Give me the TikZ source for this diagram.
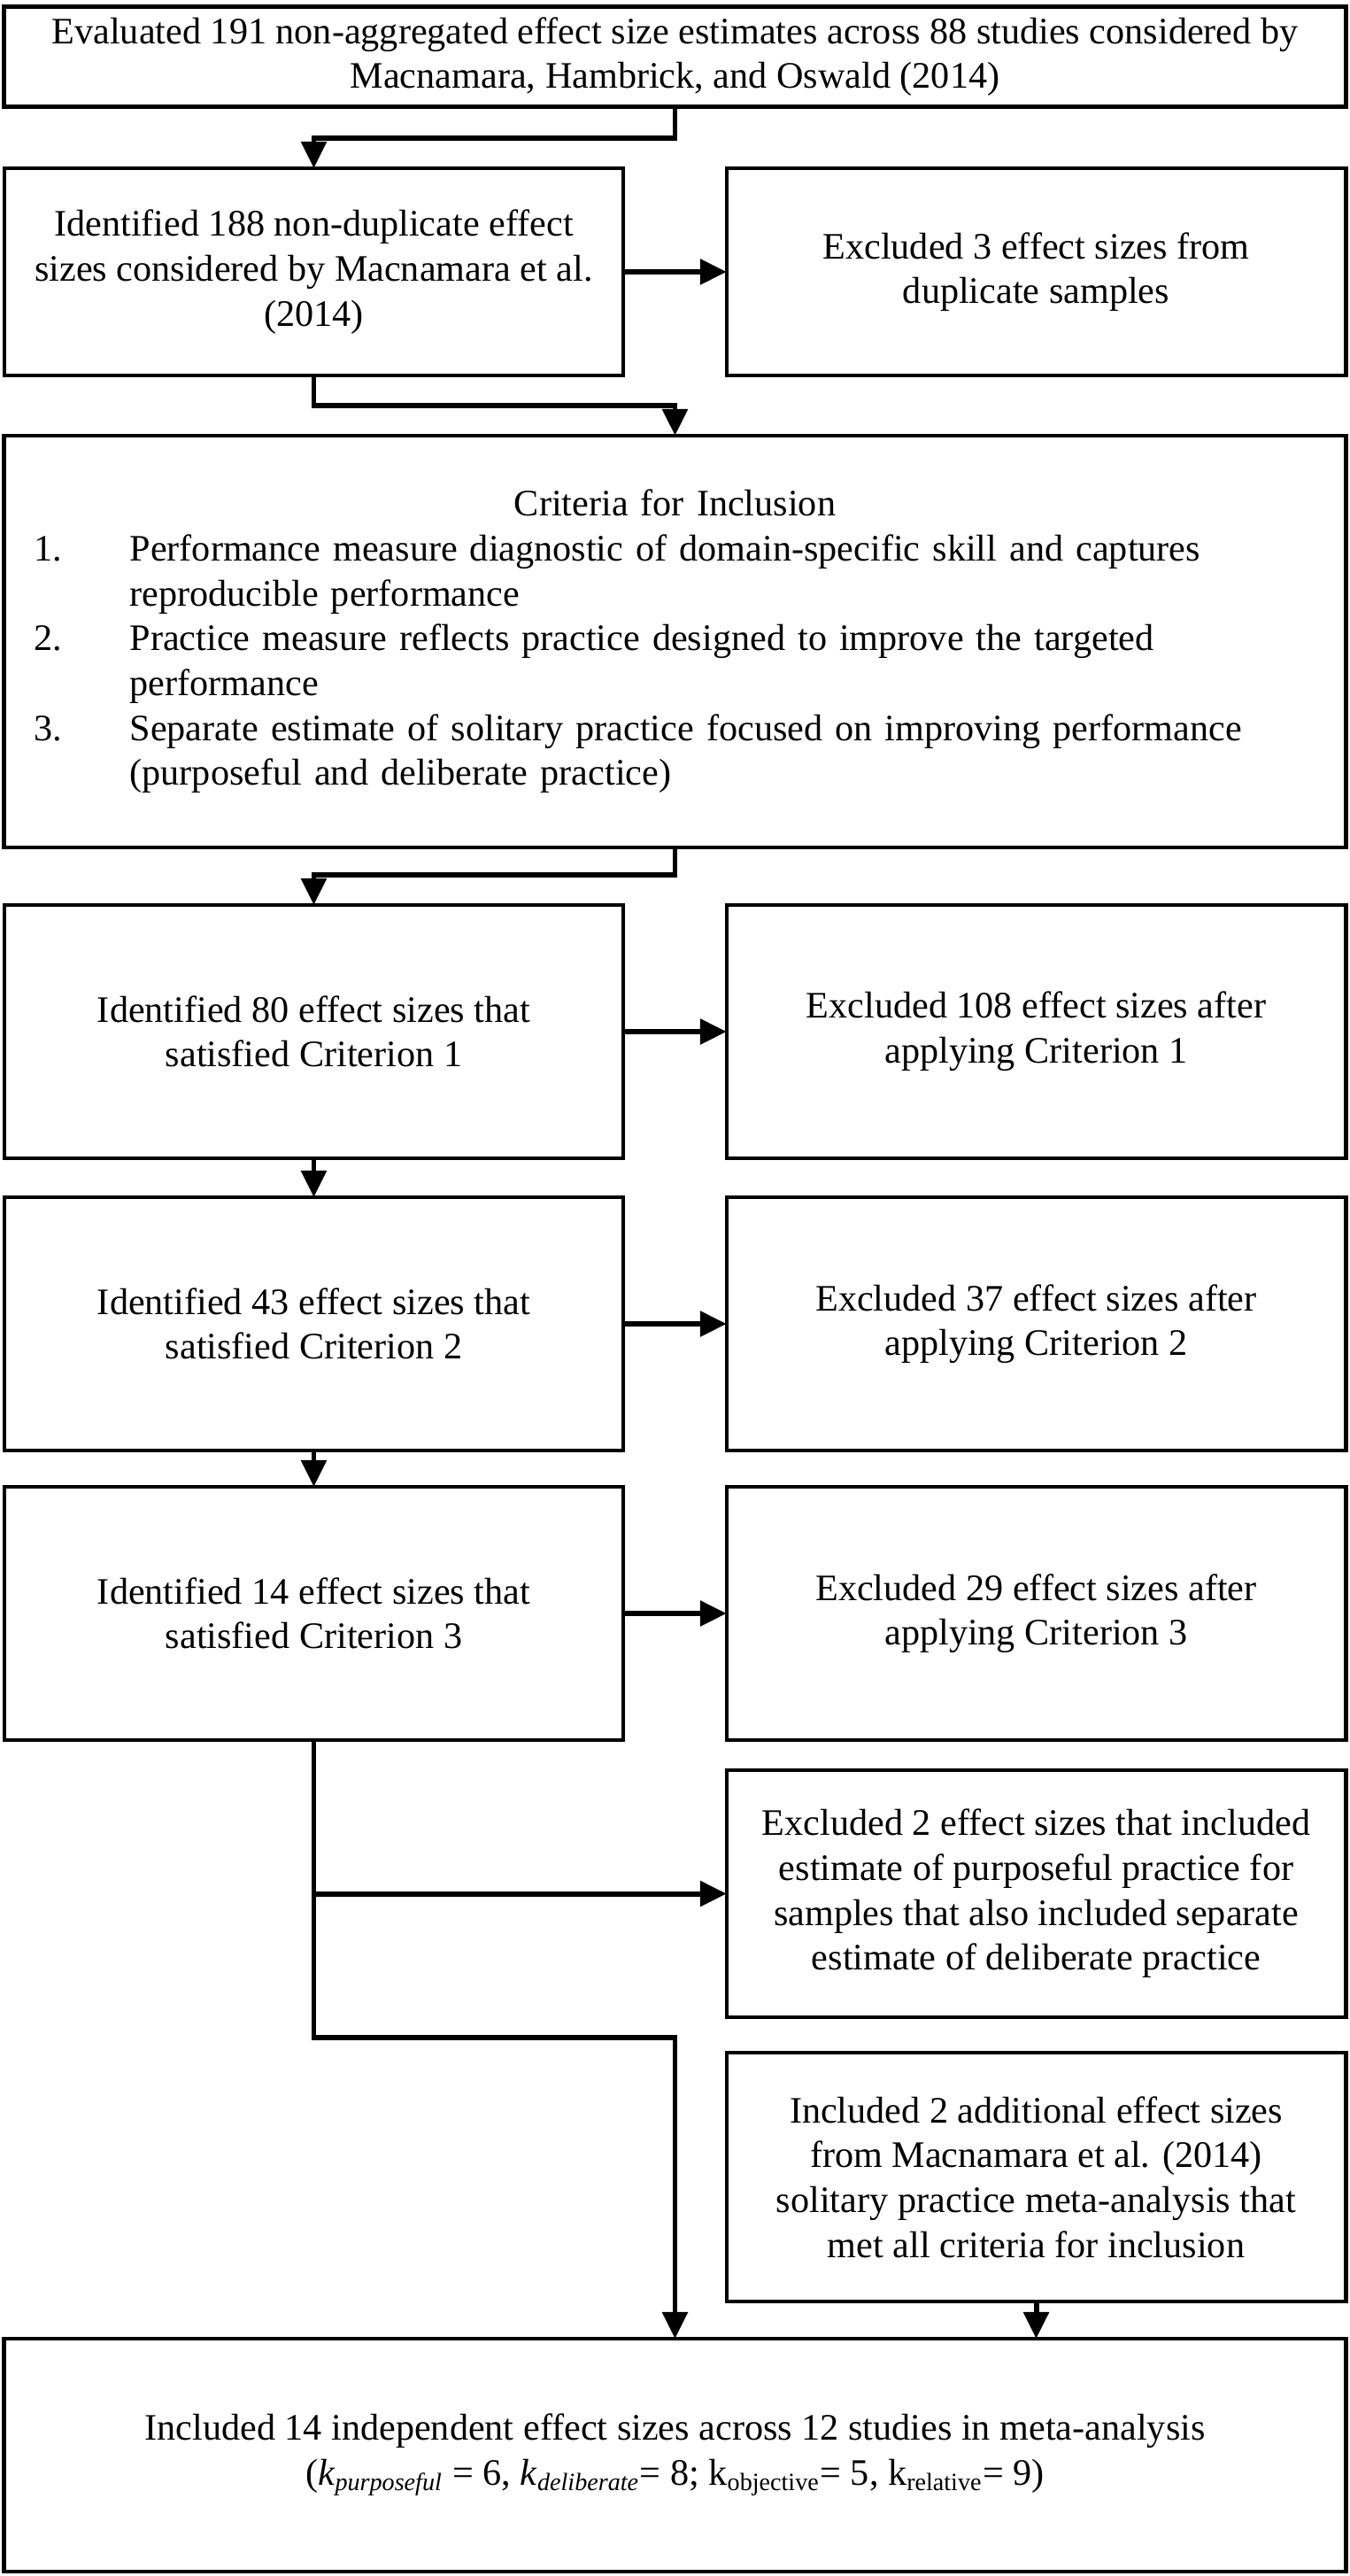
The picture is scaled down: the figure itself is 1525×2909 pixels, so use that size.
\documentclass[tikz,border=0pt]{standalone}
\usepackage{fontspec}
\setmainfont{Liberation Serif}
\usetikzlibrary{arrows.meta}

\begin{document}
\begin{tikzpicture}[
  x = 0.01cm, y = -0.01cm,
  box/.style = {
    shape = rectangle,
    draw = black,
    line width = 1.3pt,
    inner sep = 0pt,
    outer sep = 0pt,
    align = center,
    font = \fontsize{12}{14.4}\selectfont,
  },
  wide/.style = { box, minimum width = 15.15cm },
  half/.style = { box, minimum width = 6.99cm },
  flow/.style = { line width = 1.7pt, -{Triangle[length = 0.3cm, width = 0.28cm]} }
]
  \useasboundingbox (0, 0) rectangle (1525, 2909);

  \node[wide, minimum height = 1.13cm] (eval) at (762.5, 64) {Evaluated 191 non-aggregated effect size estimates across 88 studies considered by\\Macnamara, Hambrick, and Oswald (2014)};

  \node[half, minimum height = 2.34cm] (dup) at (354.5, 307) {Identified 188 non-duplicate effect\\sizes considered by Macnamara et al.\\(2014)};
  \node[half, minimum height = 2.34cm] (dupx) at (1170.5, 307) {Excluded 3 effect sizes from\\duplicate samples};

  \node[wide, minimum height = 4.65cm, text width = 15.15cm, align = left] (crit) at (762.5, 724.5) {%
    {\centering Criteria for Inclusion\par}
    \hspace*{0.34cm}\makebox[1.08cm][l]{1.}Performance measure diagnostic of domain-specific skill and captures\\
    \hspace*{1.42cm}reproducible performance\\
    \hspace*{0.34cm}\makebox[1.08cm][l]{2.}Practice measure reflects practice designed to improve the targeted\\
    \hspace*{1.42cm}performance\\
    \hspace*{0.34cm}\makebox[1.08cm][l]{3.}Separate estimate of solitary practice focused on improving performance\\
    \hspace*{1.42cm}(purposeful and deliberate practice)};

  \node[half, minimum height = 2.86cm] (c1) at (354.5, 1165) {Identified 80 effect sizes that\\satisfied Criterion 1};
  \node[half, minimum height = 2.86cm] (c1x) at (1170.5, 1165) {Excluded 108 effect sizes after\\applying Criterion 1};

  \node[half, minimum height = 2.86cm] (c2) at (354.5, 1495) {Identified 43 effect sizes that\\satisfied Criterion 2};
  \node[half, minimum height = 2.86cm] (c2x) at (1170.5, 1495) {Excluded 37 effect sizes after\\applying Criterion 2};

  \node[half, minimum height = 2.86cm] (c3) at (354.5, 1822) {Identified 14 effect sizes that\\satisfied Criterion 3};
  \node[half, minimum height = 2.86cm] (c3x) at (1170.5, 1822) {Excluded 29 effect sizes after\\applying Criterion 3};

  \node[half, minimum height = 2.79cm] (purp) at (1170.5, 2138.5) {Excluded 2 effect sizes that included\\estimate of purposeful practice for\\samples that also included separate\\estimate of deliberate practice};
  \node[half, minimum height = 2.81cm] (extra) at (1170.5, 2458.5) {Included 2 additional effect sizes\\from Macnamara et al. (2014)\\solitary practice meta-analysis that\\met all criteria for inclusion};

  \node[wide, minimum height = 2.63cm] (final) at (762.5, 2772.5) {Included 14 independent effect sizes across 12 studies in meta-analysis\\(\textit{k}\textsubscript{\textit{purposeful}} = 6, \textit{k}\textsubscript{\textit{deliberate}}= 8; k\textsubscript{objective}= 5, k\textsubscript{relative}= 9)};

  % connectors
  \draw[flow] (eval.south) -- ++(0, 35) -| (dup.north);
  \draw[flow] (dup) -- (dupx);
  \draw[flow] (dup.south) -- ++(0, 34) -| (crit.north);
  \draw[flow] (crit.south) -- ++(0, 31) -| (c1.north);

  \draw[flow] (c1) -- (c1x);
  \draw[flow] (c1) -- (c2);
  \draw[flow] (c2) -- (c2x);
  \draw[flow] (c2) -- (c3);
  \draw[flow] (c3) -- (c3x);

  \draw[flow] (c3.south |- purp.west) -- (purp.west);
  \draw[flow] (c3.south) -- ++(0, 336) -| (final.north);
  \draw[flow] (extra.south) -- (extra.south |- final.north);
\end{tikzpicture}
\end{document}
